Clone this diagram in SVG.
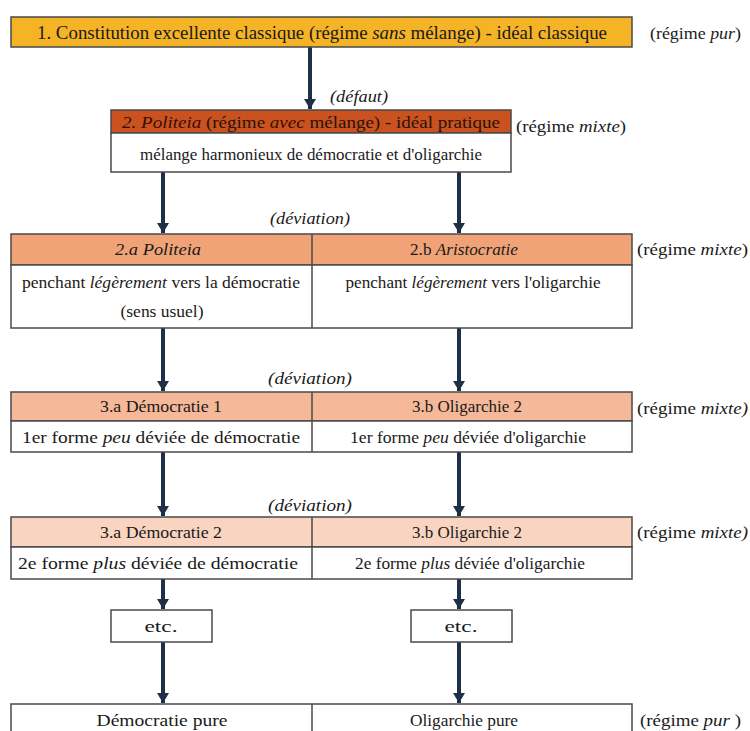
<svg xmlns="http://www.w3.org/2000/svg" width="750" height="731" viewBox="0 0 750 731">
<style>
text{fill:#1a1a1a;font-size:17px;text-anchor:middle;dominant-baseline:central}
.i{font-style:italic}
.box{stroke:#4a4a4a;stroke-width:1.5}
.w{fill:#ffffff}
.c1{fill:#F5B326}
.c2{fill:#C9521F}
.c3{fill:#F0A377}
.c4{fill:#F5B898}
.c5{fill:#F9D4C0}
.div{stroke:#4a4a4a;stroke-width:1.5}
.lbl{text-anchor:start}
.con{stroke:#1D3048;stroke-width:4;fill:none;marker-end:url(#ah)}
</style>
<defs>
<marker id="ah" markerUnits="userSpaceOnUse" markerWidth="10" markerHeight="12" refX="10" refY="6" orient="auto" viewBox="0 0 10 12">
<path d="M0,0 L10,6 L0,12 Z" fill="#1D3048"/>
</marker>
</defs>
<rect width="750" height="731" fill="#ffffff"/>
<g font-family="Liberation Serif, Times New Roman, Tinos, serif">
<g id="connectors">
<line class="con" x1="310" y1="47" x2="310" y2="109"/>
<line class="con" x1="163" y1="172" x2="163" y2="233"/>
<line class="con" x1="459" y1="172" x2="459" y2="233"/>
<line class="con" x1="163" y1="328" x2="163" y2="391"/>
<line class="con" x1="459" y1="328" x2="459" y2="391"/>
<line class="con" x1="163" y1="452" x2="163" y2="516"/>
<line class="con" x1="459" y1="452" x2="459" y2="516"/>
<line class="con" x1="163" y1="579" x2="163" y2="609"/>
<line class="con" x1="459" y1="579" x2="459" y2="609"/>
<line class="con" x1="163" y1="642" x2="163" y2="703"/>
<line class="con" x1="459" y1="642" x2="459" y2="703"/>
<text class="i lbl" x="330" y="96" textLength="58" lengthAdjust="spacingAndGlyphs">(défaut)</text>
<text class="i lbl" x="270" y="218" textLength="80" lengthAdjust="spacingAndGlyphs">(déviation)</text>
<text class="i lbl" x="268" y="378" textLength="84" lengthAdjust="spacingAndGlyphs">(déviation)</text>
<text class="i lbl" x="268" y="505" textLength="84" lengthAdjust="spacingAndGlyphs">(déviation)</text>
</g>
<g id="n1">
<rect class="box c1" x="11" y="17" width="621" height="30"/>
<text x="322" y="32" style="font-size:19px" textLength="570" lengthAdjust="spacingAndGlyphs">1. Constitution excellente classique (régime <tspan class="i">sans</tspan> mélange) - idéal classique</text>
<text class="lbl" x="650" y="33" textLength="91" lengthAdjust="spacingAndGlyphs">(régime <tspan class="i">pur</tspan>)</text>
</g>
<g id="n2">
<rect class="box c2" x="111" y="110" width="400" height="23"/>
<rect class="box w" x="111" y="133" width="400" height="39"/>
<text x="311" y="122" style="fill:#2a1208" textLength="378" lengthAdjust="spacingAndGlyphs"><tspan class="i" style="fill:#3a0c04">2. Politeia</tspan> (régime <tspan class="i" style="fill:#3a0c04">avec</tspan> mélange) - idéal pratique</text>
<text x="311" y="154" textLength="342" lengthAdjust="spacingAndGlyphs">mélange harmonieux de démocratie et d'oligarchie</text>
<text class="lbl" x="516" y="126" textLength="110" lengthAdjust="spacingAndGlyphs">(régime <tspan class="i">mixte</tspan>)</text>
</g>
<g id="n3">
<rect class="box c3" x="11" y="234" width="621" height="31"/>
<rect class="box w" x="11" y="265" width="621" height="63"/>
<line class="div" x1="312" y1="234" x2="312" y2="328"/>
<text class="i" x="158" y="249" textLength="86" lengthAdjust="spacingAndGlyphs">2.a Politeia</text>
<text x="464" y="249" textLength="108" lengthAdjust="spacingAndGlyphs">2.b <tspan class="i">Aristocratie</tspan></text>
<text x="161" y="282" textLength="278" lengthAdjust="spacingAndGlyphs">penchant <tspan class="i">légèrement</tspan>  vers la démocratie</text>
<text x="162" y="311" textLength="83" lengthAdjust="spacingAndGlyphs">(sens usuel)</text>
<text x="473" y="282" textLength="255" lengthAdjust="spacingAndGlyphs">penchant <tspan class="i">légèrement</tspan>  vers l'oligarchie</text>
<text class="lbl" x="637" y="249" textLength="111" lengthAdjust="spacingAndGlyphs">(régime <tspan class="i">mixte</tspan>)</text>
</g>
<g id="n4">
<rect class="box c4" x="11" y="392" width="621" height="29"/>
<rect class="box w" x="11" y="421" width="621" height="31"/>
<line class="div" x1="312" y1="392" x2="312" y2="452"/>
<text x="161" y="406" textLength="122" lengthAdjust="spacingAndGlyphs">3.a Démocratie 1</text>
<text x="467" y="406" textLength="110" lengthAdjust="spacingAndGlyphs">3.b Oligarchie 2</text>
<text x="161" y="437" textLength="278" lengthAdjust="spacingAndGlyphs">1er forme <tspan class="i">peu</tspan>  déviée de démocratie</text>
<text x="468" y="437" textLength="236" lengthAdjust="spacingAndGlyphs">1er forme <tspan class="i">peu</tspan>  déviée d'oligarchie</text>
<text class="lbl" x="637" y="408" textLength="111" lengthAdjust="spacingAndGlyphs">(régime <tspan class="i">mixte)</tspan></text>
</g>
<g id="n5">
<rect class="box c5" x="11" y="517" width="621" height="30"/>
<rect class="box w" x="11" y="547" width="621" height="32"/>
<line class="div" x1="312" y1="517" x2="312" y2="579"/>
<text x="161" y="532" textLength="122" lengthAdjust="spacingAndGlyphs">3.a Démocratie 2</text>
<text x="467" y="532" textLength="110" lengthAdjust="spacingAndGlyphs">3.b Oligarchie 2</text>
<text x="158" y="563" textLength="280" lengthAdjust="spacingAndGlyphs">2e forme <tspan class="i">plus</tspan>  déviée de démocratie</text>
<text x="470" y="563" textLength="230" lengthAdjust="spacingAndGlyphs">2e forme <tspan class="i">plus</tspan>  déviée d'oligarchie</text>
<text class="lbl" x="637" y="532" textLength="111" lengthAdjust="spacingAndGlyphs">(régime <tspan class="i">mixte)</tspan></text>
</g>
<g id="n6">
<rect class="box w" x="111" y="610" width="101" height="32"/>
<text x="161" y="626" textLength="33" lengthAdjust="spacingAndGlyphs">etc.</text>
</g>
<g id="n7">
<rect class="box w" x="411" y="610" width="101" height="32"/>
<text x="461" y="626" textLength="33" lengthAdjust="spacingAndGlyphs">etc.</text>
</g>
<g id="n8">
<rect class="box w" x="11" y="704" width="621" height="40"/>
<line class="div" x1="312" y1="704" x2="312" y2="744"/>
<text x="162" y="720" textLength="131" lengthAdjust="spacingAndGlyphs">Démocratie pure</text>
<text x="464" y="720" textLength="108" lengthAdjust="spacingAndGlyphs">Oligarchie pure</text>
<text class="lbl" x="640" y="720" textLength="101" lengthAdjust="spacingAndGlyphs">(régime <tspan class="i">pur</tspan> )</text>
</g>
</g>
</svg>
